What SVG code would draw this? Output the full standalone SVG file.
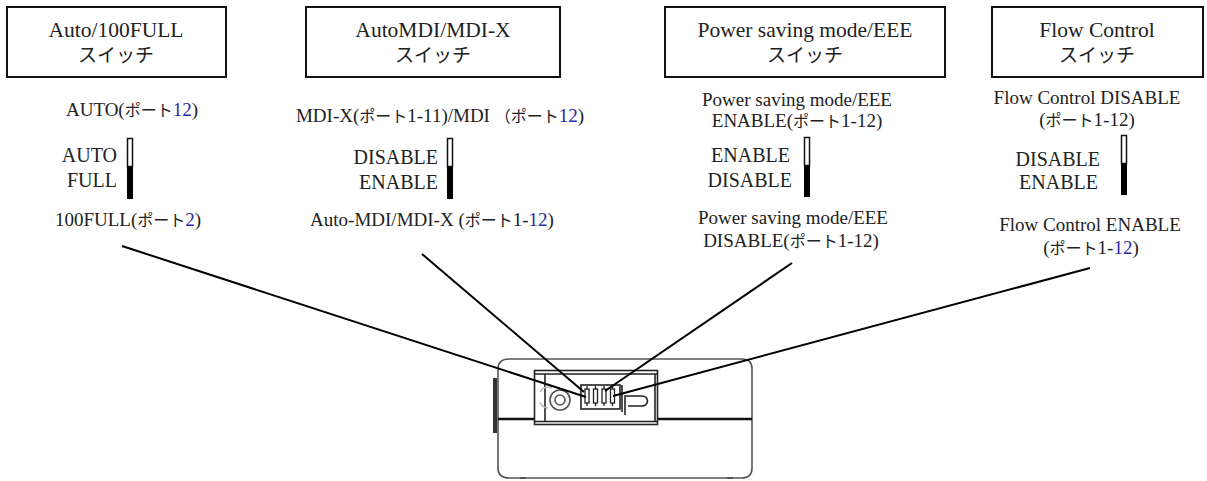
<svg xmlns="http://www.w3.org/2000/svg" width="1207" height="481" viewBox="0 0 1207 481">
<style>
text{font-family:"Liberation Serif","Noto Sans CJK JP",serif;fill:#222}
.h{font-size:21.5px;text-anchor:middle}
.hj{font-size:19px}
.s{font-size:19px;text-anchor:middle}
.j{font-size:16px}
.l{font-size:20px;text-anchor:end}
.b{fill:#2a2aa6}
.box{fill:#fff;stroke:#111;stroke-width:2}
.sw{fill:#fff;stroke:#111;stroke-width:1.5}
.swb{fill:#000}
.con line{stroke:#000;stroke-width:2}
.dev{fill:none;stroke:#555;stroke-width:1.6}
.devk{fill:none;stroke:#222;stroke-width:1.6}
</style>
<rect width="1207" height="481" fill="#fff"/>

<g id="node-auto100full">
<rect class="box" x="7" y="7" width="219" height="70"/>
<text class="h" x="116" y="37">Auto/100FULL</text>
<text class="h" x="116" y="62"><tspan class="hj">スイッチ</tspan></text>
<text class="s" x="132" y="116">AUTO(<tspan class="j">ポート</tspan><tspan class="b">12</tspan>)</text>
<rect class="sw" x="127.5" y="138.5" width="5" height="28"/>
<rect class="swb" x="127" y="167" width="6" height="32"/>
<text class="l" x="117" y="162">AUTO</text>
<text class="l" x="117" y="187">FULL</text>
<text class="s" x="128" y="226">100FULL(<tspan class="j">ポート</tspan><tspan class="b">2</tspan>)</text>
</g>

<g id="node-mdix">
<rect class="box" x="306" y="7" width="254" height="70"/>
<text class="h" x="433" y="37">AutoMDI/MDI-X</text>
<text class="h" x="433" y="62"><tspan class="hj">スイッチ</tspan></text>
<text class="s" x="440" y="122">MDI-X(<tspan class="j">ポート</tspan>1-11)/MDI <tspan class="j">（ポート</tspan><tspan class="b">12</tspan>)</text>
<rect class="sw" x="447.5" y="138.5" width="5" height="28"/>
<rect class="swb" x="447" y="167" width="6" height="32"/>
<text class="l" x="438" y="164">DISABLE</text>
<text class="l" x="438" y="189">ENABLE</text>
<text class="s" x="432" y="226">Auto-MDI/MDI-X (<tspan class="j">ポート</tspan>1-<tspan class="b">12</tspan>)</text>
</g>

<g id="node-eee">
<rect class="box" x="665" y="7" width="280" height="70"/>
<text class="h" x="805" y="37">Power saving mode/EEE</text>
<text class="h" x="805" y="62"><tspan class="hj">スイッチ</tspan></text>
<text class="s" x="797" y="106">Power saving mode/EEE</text>
<text class="s" x="797" y="127">ENABLE(<tspan class="j">ポート</tspan>1-12)</text>
<rect class="sw" x="804.5" y="137.5" width="5" height="28"/>
<rect class="swb" x="804" y="166" width="6" height="31"/>
<text class="l" x="790" y="162">ENABLE</text>
<text class="l" x="792" y="187">DISABLE</text>
<text class="s" x="793" y="224">Power saving mode/EEE</text>
<text class="s" x="791" y="247">DISABLE(<tspan class="j">ポート</tspan>1-12)</text>
</g>

<g id="node-flow">
<rect class="box" x="992" y="7" width="211" height="70"/>
<text class="h" x="1097" y="37">Flow Control</text>
<text class="h" x="1097" y="62"><tspan class="hj">スイッチ</tspan></text>
<text class="s" x="1087" y="104">Flow Control DISABLE</text>
<text class="s" x="1087" y="126">(<tspan class="j">ポート</tspan>1-12)</text>
<rect class="sw" x="1121.5" y="135.5" width="5" height="28"/>
<rect class="swb" x="1121" y="164" width="6" height="31"/>
<text class="l" x="1100" y="166">DISABLE</text>
<text class="l" x="1098" y="189">ENABLE</text>
<text class="s" x="1090" y="231">Flow Control ENABLE</text>
<text class="s" x="1091" y="254">(<tspan class="j">ポート</tspan>1-<tspan class="b">12</tspan>)</text>
</g>

<g id="node-device">
<path class="dev" d="M509,359 H742 Q752,359 752,369 V468 Q752,478 742,478 H509 Q498,478 498,468 V369 Q498,359 509,359 Z"/>
<rect x="493" y="378" width="4" height="55" fill="#333"/>
<line x1="498" y1="419" x2="534" y2="419" stroke="#111" stroke-width="2.5"/>
<line x1="658" y1="419" x2="752" y2="419" stroke="#111" stroke-width="2.5"/>
<rect class="devk" x="534.5" y="370.5" width="123" height="54"/>
<line class="devk" x1="534" y1="374" x2="658" y2="374"/>
<line class="devk" x1="534" y1="421.5" x2="658" y2="421.5"/>
<line class="devk" x1="545" y1="374" x2="545" y2="421"/>
<line class="devk" x1="655" y1="374" x2="655" y2="421"/>
<path d="M552,388 A9,9 0 0 0 540,392 M540,402 A9,9 0 0 0 548,408" fill="none" stroke="#bbb" stroke-width="1.5"/>
<circle class="dev" cx="560" cy="400" r="10"/>
<circle class="dev" cx="560" cy="400" r="5"/>
<rect class="devk" x="581" y="385" width="39" height="24"/>
<g fill="#fff" stroke="#222" stroke-width="1.3">
<rect x="585" y="389" width="4" height="14"/>
<rect x="593.5" y="389" width="4" height="14"/>
<rect x="602" y="389" width="4" height="14"/>
<rect x="610.5" y="389" width="4" height="14"/>
</g>
<g stroke="#222" stroke-width="1.3">
<line x1="587" y1="386" x2="587" y2="389"/>
<line x1="595.5" y1="386" x2="595.5" y2="389"/>
<line x1="604" y1="386" x2="604" y2="389"/>
<line x1="612.5" y1="386" x2="612.5" y2="389"/>
<line x1="587" y1="403" x2="587" y2="406"/>
<line x1="595.5" y1="403" x2="595.5" y2="406"/>
<line x1="604" y1="403" x2="604" y2="406"/>
<line x1="612.5" y1="403" x2="612.5" y2="406"/>
</g>
<line class="devk" x1="622" y1="385" x2="622" y2="412"/>
<path class="devk" d="M625,415 V396 H642 A5.5,5 0 0 1 642,406 H628"/>
<line x1="520" y1="478" x2="526" y2="478" stroke="#555" stroke-width="2"/>
<line x1="727" y1="478" x2="733" y2="478" stroke="#555" stroke-width="2"/>
</g>

<g id="connectors" class="con">
<line x1="122" y1="246" x2="586" y2="397"/>
<line x1="422" y1="254" x2="584" y2="392"/>
<line x1="792" y1="263" x2="605" y2="391"/>
<line x1="1090" y1="268" x2="613" y2="396"/>
</g>
</svg>
